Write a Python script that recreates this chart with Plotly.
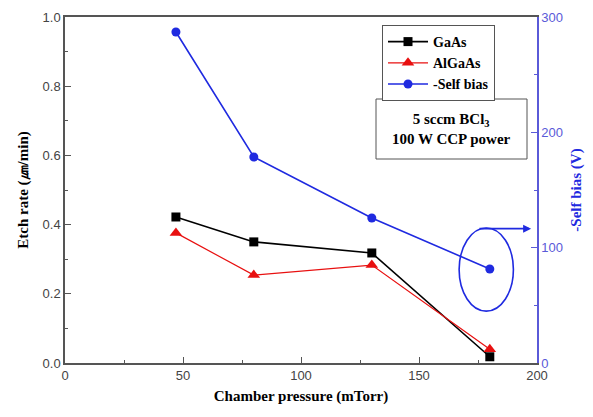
import plotly.graph_objects as go

pressure = [47, 80, 130, 180]
gaas = [0.422, 0.350, 0.318, 0.018]
algaas = [0.376, 0.254, 0.283, 0.040]
self_bias = [287, 178.6, 125.7, 81.5]

x_ticks = [0, 50, 100, 150, 200]
y_ticks = [0.0, 0.2, 0.4, 0.6, 0.8, 1.0]
y2_ticks = [0, 100, 200, 300]

BLUE = "#1f2ae0"
AXBLUE = "#5a5ad8"
SERIF = "Liberation Serif"
SANS = "Liberation Sans"

fig = go.Figure()
fig.add_trace(go.Scatter(x=pressure, y=gaas, name="GaAs", mode="lines+markers",
                         line=dict(color="black", width=1.6),
                         marker=dict(symbol="square", size=9, color="black")))
fig.add_trace(go.Scatter(x=pressure, y=algaas, name="AlGaAs", mode="lines+markers",
                         line=dict(color="#e81010", width=1.2),
                         marker=dict(symbol="triangle-up", size=11, color="#e81010")))
fig.add_trace(go.Scatter(x=pressure, y=self_bias, name="-Self bias", mode="lines+markers",
                         yaxis="y2",
                         line=dict(color=BLUE, width=1.6),
                         marker=dict(symbol="circle", size=9, color=BLUE)))

# ellipse highlighting last self-bias point
fig.add_shape(type="circle", xref="x", yref="y2", x0=167, x1=190, y0=45, y1=117,
              line=dict(color=BLUE, width=1.6))
fig.add_annotation(x=197.5, y=116.5, ax=175, ay=116.5, xref="x", yref="y2",
                   axref="x", ayref="y2", showarrow=True, arrowhead=2, arrowsize=1,
                   arrowwidth=1.6, arrowcolor=BLUE, text="")

# condition box
fig.add_shape(type="rect", xref="paper", yref="paper",
              x0=(376 - 65) / 472, x1=(527 - 65) / 472,
              y0=(363 - 159) / 346, y1=(363 - 99) / 346,
              line=dict(color="#555555", width=1))
fig.add_annotation(xref="paper", yref="paper", x=(451 - 65) / 472, y=(363 - 129) / 346,
                   xanchor="center", yanchor="middle",
                   text="5 sccm BCl<sub>3</sub><br>100 W CCP power",
                   showarrow=False,
                   font=dict(family=SERIF, size=15, color="black", weight="bold"),
                   align="center")

fig.update_layout(
    width=593, height=417,
    margin=dict(l=65, r=56, t=17, b=54, autoexpand=False),
    paper_bgcolor="white", plot_bgcolor="white",
    showlegend=True,
    legend=dict(x=(382 - 65) / 472, y=(363 - 25) / 346, xanchor="left", yanchor="top",
                bordercolor="#555555", borderwidth=1, bgcolor="white",
                font=dict(family=SERIF, size=14, color="black", weight="bold"),
                tracegroupgap=0, itemsizing="trace", itemwidth=40),
    xaxis=dict(range=[0, 200], tickvals=x_ticks, ticks="inside", ticklen=6,
               minor=dict(ticks="inside", ticklen=3, dtick=25, tickcolor="#555555"),
               showline=True, linecolor="#555555", linewidth=1.5, mirror=True,
               tickcolor="#555555", showgrid=False, zeroline=False,
               tickfont=dict(family=SANS, size=13, color="#444444"),
               title=dict(text="Chamber pressure (mTorr)",
                          font=dict(family=SERIF, size=15, color="black", weight="bold"),
                          standoff=8)),
    yaxis=dict(range=[0, 1.0], tickvals=y_ticks, tickformat=".1f", ticks="inside", ticklen=6,
               minor=dict(ticks="inside", ticklen=3, dtick=0.1, tickcolor="#555555"),
               showline=True, linecolor="#555555", linewidth=1.5,
               tickcolor="#555555", showgrid=False, zeroline=False,
               tickfont=dict(family=SANS, size=13, color="#444444"),
               title=dict(text="Etch rate (\u339b/min)",
                          font=dict(family=SERIF, size=15, color="black", weight="bold"),
                          standoff=10)),
    yaxis2=dict(range=[0, 300], tickvals=y2_ticks, overlaying="y", side="right",
                ticks="inside", ticklen=6,
                minor=dict(ticks="inside", ticklen=3, dtick=50, tickcolor=AXBLUE),
                showline=True, linecolor=AXBLUE, linewidth=1.5, tickcolor=AXBLUE,
                showgrid=False, zeroline=False,
                tickfont=dict(family=SANS, size=13, color=AXBLUE),
                title=dict(text="-Self bias (V)",
                           font=dict(family=SERIF, size=15, color=BLUE, weight="bold"),
                           standoff=8)),
)

fig.write_html("out.html", config={"displayModeBar": False},
               post_script="document.body.style.margin='0';")
